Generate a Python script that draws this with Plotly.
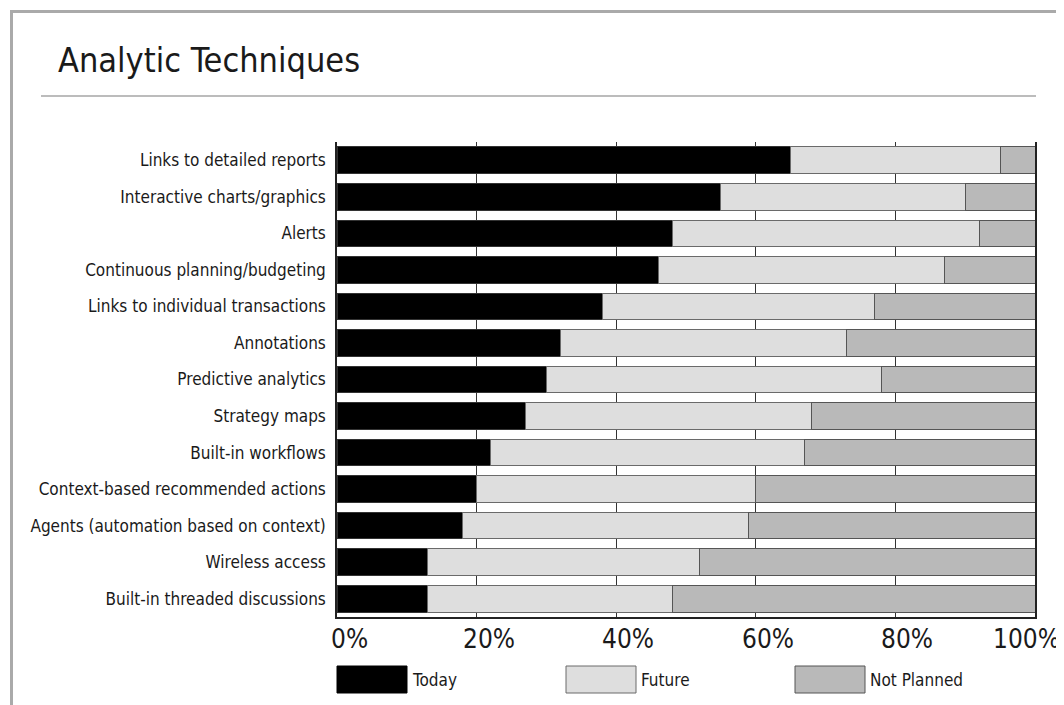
import plotly.graph_objects as go

# ---------------- data ----------------
categories = [
    "Links to detailed reports",
    "Interactive charts/graphics",
    "Alerts",
    "Continuous planning/budgeting",
    "Links to individual transactions",
    "Annotations",
    "Predictive analytics",
    "Strategy maps",
    "Built-in workflows",
    "Context-based recommended actions",
    "Agents (automation based on context)",
    "Wireless access",
    "Built-in threaded discussions",
]
today = [65, 55, 48, 46, 38, 32, 30, 27, 22, 20, 18, 13, 13]
future = [30, 35, 44, 41, 39, 41, 48, 41, 45, 40, 41, 39, 35]
not_planned = [5, 10, 8, 13, 23, 27, 22, 32, 33, 40, 41, 48, 52]
series_names = ["Today", "Future", "Not Planned"]
x_ticks = [0, 20, 40, 60, 80, 100]
x_tick_labels = ["0%", "20%", "40%", "60%", "80%", "100%"]
title_text = "Analytic Techniques"

# ---------------- styling ----------------
FONT = "DejaVu Sans Condensed, Liberation Sans Narrow, Arial Narrow, sans-serif"
TEXT = "#1a1a1a"
fills = ["#000000", "#dedede", "#b9b9b9"]
edges = ["#333333", "#6a6a6a", "#555555"]

# the page body adds an 8px margin; figure coordinates are screen - OFF
OFF = 8
W, H = 1064 - OFF, 705 - OFF
L, R, T, B = 337 - OFF, 29, 142 - OFF, 88
PW = W - L - R
PH = H - T - B


def px(x):
    """screen x pixel -> paper x"""
    return (x - OFF - L) / PW


def py(y):
    """screen y pixel -> paper y"""
    return (H - B - (y - OFF)) / PH


fig = go.Figure()
for name, vals, fc, ec in zip(series_names, [today, future, not_planned], fills, edges):
    fig.add_trace(go.Bar(
        y=categories, x=vals, name=name, orientation="h",
        marker=dict(color=fc, line=dict(color=ec, width=1)),
        hoverinfo="skip",
    ))

shapes = []
annotations = []

# frame and separator
shapes.append(dict(type="line", xref="paper", yref="paper",
                   x0=px(10), x1=px(1070), y0=py(11.5), y1=py(11.5),
                   line=dict(color="#aaaaaa", width=3)))
shapes.append(dict(type="line", xref="paper", yref="paper",
                   x0=px(11.5), x1=px(11.5), y0=py(10), y1=py(712),
                   line=dict(color="#aaaaaa", width=3)))
shapes.append(dict(type="line", xref="paper", yref="paper",
                   x0=px(41), x1=px(1036), y0=py(96), y1=py(96),
                   line=dict(color="#a6a6a6", width=1.5)))

# title
annotations.append(dict(text=title_text, xref="paper", yref="paper",
                        x=px(56), y=py(60), xanchor="left", yanchor="middle",
                        showarrow=False, font=dict(family=FONT, size=34, color=TEXT)))

# x tick labels
for v, lab in zip(x_ticks, x_tick_labels):
    if v == x_ticks[-1]:
        annotations.append(dict(text=lab, xref="x", yref="paper", x=v, y=py(639),
                                xanchor="right", yanchor="middle", xshift=27,
                                showarrow=False, font=dict(family=FONT, size=26, color=TEXT)))
    else:
        annotations.append(dict(text=lab, xref="x", yref="paper", x=v, y=py(639),
                                xanchor="center", yanchor="middle", xshift=12,
                                showarrow=False, font=dict(family=FONT, size=26, color=TEXT)))

# legend (custom large swatches)
box_w, box_gap = 70, 229
for i, (name, fc, ec) in enumerate(zip(series_names, fills, edges)):
    x0 = 337 + i * box_gap
    shapes.append(dict(type="rect", xref="paper", yref="paper",
                       x0=px(x0), x1=px(x0 + box_w), y0=py(666), y1=py(693),
                       fillcolor=fc, line=dict(color=ec if i else fc, width=1)))
    annotations.append(dict(text=name, xref="paper", yref="paper",
                            x=px(x0 + box_w + 3), y=py(679.5),
                            xanchor="left", yanchor="middle", showarrow=False,
                            font=dict(family=FONT, size=17, color=TEXT)))

fig.update_layout(
    width=W, height=H,
    margin=dict(l=L, r=R, t=T, b=B, pad=0, autoexpand=False),
    barmode="stack", bargap=0.27,
    showlegend=False,
    plot_bgcolor="white", paper_bgcolor="white",
    font=dict(family=FONT, color=TEXT),
    shapes=shapes, annotations=annotations,
    xaxis=dict(range=[0, 100], tickvals=x_ticks, showticklabels=False,
               showgrid=True, gridcolor="#333333", gridwidth=1.3,
               showline=True, linecolor="#222222", linewidth=1.5,
               zeroline=False, ticks="", fixedrange=True, automargin=False),
    yaxis=dict(autorange="reversed", showline=True, mirror=True,
               linecolor="#222222", linewidth=1.5, showgrid=False,
               ticks="", ticklabelstandoff=6, automargin=False,
               tickfont=dict(family=FONT, size=17, color=TEXT),
               fixedrange=True),
)

fig.write_html("out.html")
